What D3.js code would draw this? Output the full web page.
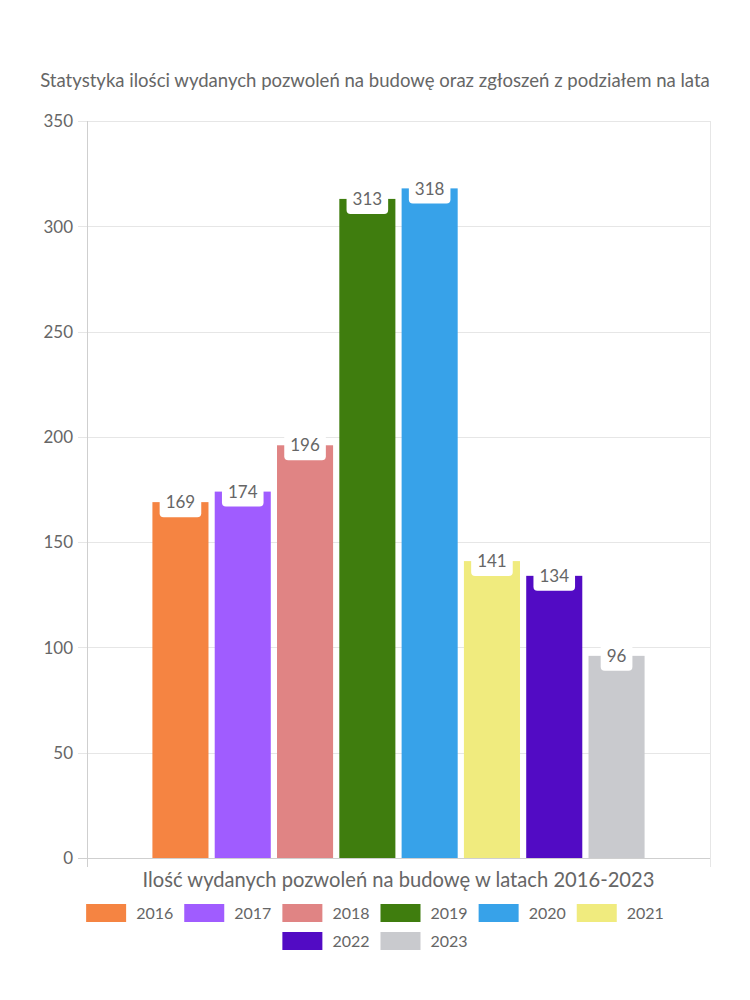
<!DOCTYPE html>
<html>
<head>
<meta charset="utf-8">
<script src="https://cdn.jsdelivr.net/npm/d3@7"></script>
<style>
  html, body { margin: 0; padding: 0; background: #fff; }
  svg { display: block; }
  text { font-family: Lato, "Noto Sans", sans-serif; fill: #666; }
</style>
</head>
<body>
<svg id="chart" width="750" height="1000"></svg>
<script>
const titleText = "Statystyka ilości wydanych pozwoleń na budowę oraz zgłoszeń z podziałem na lata";
const xAxisLabel = "Ilość wydanych pozwoleń na budowę w latach 2016-2023";
const years = ["2016", "2017", "2018", "2019", "2020", "2021", "2022", "2023"];
const values = [169, 174, 196, 313, 318, 141, 134, 96];
const colors = ["#F58442", "#A05CFF", "#E08484", "#3F7D0E", "#37A2E9", "#F0EB7E", "#520BC4", "#C9CACE"];
const yTicks = [0, 50, 100, 150, 200, 250, 300, 350];
const groupName = ["all"];

const svg = d3.select("#chart");
const plot = { left: 87, right: 710, top: 121, bottom: 858 };

function fitText(sel, targetWidth, baseSize) {
  sel.style("font-size", baseSize + "px");
  const w = sel.node().getComputedTextLength();
  sel.style("font-size", (baseSize * targetWidth / w).toFixed(2) + "px");
}

// Title
const title = svg.append("text")
  .attr("x", 375).attr("y", 87)
  .attr("text-anchor", "middle")
  .text(titleText);
fitText(title, 670, 15);

// Scales
const y = d3.scaleLinear().domain([0, 350]).range([plot.bottom, plot.top]);
const xOuter = d3.scaleBand().domain(groupName).range([plot.left, plot.right])
  .paddingInner(0).paddingOuter(0.125);
const xInner = d3.scaleBand().domain(years).range([0, xOuter.bandwidth()])
  .paddingInner(0.1).paddingOuter(0.05);

// Grid lines
const grid = svg.append("g");
grid.selectAll("line.h").data(yTicks).join("line")
  .attr("x1", plot.left - 9).attr("x2", plot.right)
  .attr("y1", d => Math.round(y(d)) + 0.5).attr("y2", d => Math.round(y(d)) + 0.5)
  .attr("stroke", d => d === 0 ? "#cfcfcf" : "#e6e6e6").attr("stroke-width", 1);
[plot.left, plot.right].forEach((xv, i) => {
  grid.append("line")
    .attr("x1", xv + 0.5).attr("x2", xv + 0.5)
    .attr("y1", plot.top).attr("y2", plot.bottom + 9)
    .attr("stroke", i === 0 ? "#cfcfcf" : "#e6e6e6");
});

// Y axis tick labels
const yAxis = d3.axisLeft(y).tickValues(yTicks).tickSize(0).tickPadding(0);
const gy = svg.append("g").attr("transform", `translate(${plot.left - 14},0)`).call(yAxis);
gy.select(".domain").remove();
gy.selectAll("text")
  .style("font-size", "17px")
  .style("font-family", "Lato, 'Noto Sans', sans-serif")
  .attr("fill", "#666").attr("dy", "0.34em");

// Bars
const gBars = svg.append("g").attr("transform", `translate(${xOuter("all")},0)`);
const data = years.map((yr, i) => ({ year: yr, value: values[i], color: colors[i] }));
gBars.selectAll("rect.bar").data(data).join("rect")
  .attr("class", "bar")
  .attr("x", d => xInner(d.year))
  .attr("width", xInner.bandwidth())
  .attr("y", d => y(d.value))
  .attr("height", d => y(0) - y(d.value))
  .attr("fill", d => d.color);

// Data labels
const lbl = gBars.selectAll("g.lbl").data(data).join("g")
  .attr("class", "lbl")
  .attr("transform", d => `translate(${xInner(d.year) + xInner.bandwidth() / 2},${y(d.value)})`);
lbl.each(function(d) {
  const g = d3.select(this);
  const t = g.append("text").attr("text-anchor", "middle").attr("dy", "0.36em")
    .style("font-size", "17px").text(d.value);
  const tw = t.node().getComputedTextLength();
  g.insert("rect", "text")
    .attr("x", -(tw + 12) / 2).attr("y", -15)
    .attr("width", tw + 12).attr("height", 30)
    .attr("rx", 4).attr("fill", "#fff");
});

// X axis label
const xl = svg.append("text")
  .attr("x", (plot.left + plot.right) / 2).attr("y", 887)
  .attr("text-anchor", "middle")
  .text(xAxisLabel);
fitText(xl, 512, 17);

// Legend
const legendFont = 16, boxW = 40, boxH = 18, gapAfterBox = 10, itemGap = 11;
const maxRowW = 640;
const legend = svg.append("g");
const items = data.map(d => {
  const t = legend.append("text").style("font-size", legendFont + "px").text(d.year);
  const tw = t.node().getComputedTextLength();
  t.remove();
  return { ...d, tw, w: boxW + gapAfterBox + tw };
});
const rows = [[]];
let cur = 0;
items.forEach(it => {
  const add = (rows[rows.length - 1].length ? itemGap : 0) + it.w;
  if (cur + add > maxRowW && rows[rows.length - 1].length) { rows.push([]); cur = 0; }
  cur += (rows[rows.length - 1].length ? itemGap : 0) + it.w;
  rows[rows.length - 1].push(it);
});
rows.forEach((row, ri) => {
  const total = d3.sum(row, r => r.w) + itemGap * (row.length - 1);
  let x0 = 375 - total / 2;
  const cy = 913 + ri * 28;
  row.forEach(it => {
    legend.append("rect").attr("x", x0).attr("y", cy - boxH / 2)
      .attr("width", boxW).attr("height", boxH).attr("fill", it.color);
    legend.append("text").attr("x", x0 + boxW + gapAfterBox).attr("y", cy)
      .attr("dy", "0.35em").style("font-size", legendFont + "px").text(it.year);
    x0 += it.w + itemGap;
  });
});
</script>
</body>
</html>
